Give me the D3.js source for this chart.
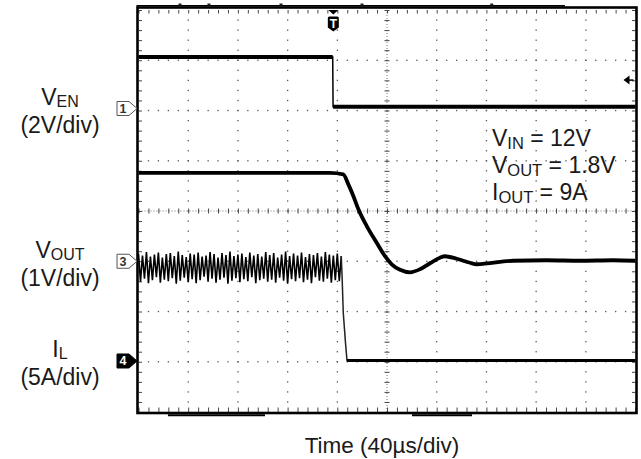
<!DOCTYPE html>
<html><head><meta charset="utf-8">
<script src="https://cdn.jsdelivr.net/npm/d3@7"></script>
<style>
body{margin:0;background:#fff;}
svg{display:block;font-family:"Liberation Sans",Arial,Helvetica,sans-serif;}
</style></head><body>
<svg id="c" width="641" height="459"></svg>
<script>
// ---------- DATA ----------
// horizontal: 10 divisions x 40 µs
const timeTicksUs = [0, 40, 80, 120, 160, 200, 240, 280, 320, 360, 400];
// vertical: 8 divisions
const divTicks = [-4, -3, -2, -1, 0, 1, 2, 3, 4];

// channels: CH1 = VEN, CH3 = VOUT, CH4 = IL
const channelIds = ["1", "3", "4"];
const channelScale = [2, 1, 5];            // V/div, V/div, A/div
const channelOffsetDiv = [2.04, -1.0, -2.985];

// VEN (CH1), volts
const venTime = [0, 156.3, 156.6, 400];
const venValue = [2.05, 2.05, 0.07, 0.07];

// VOUT (CH3), volts
const voutTime = [0, 154.1, 164.8, 168.9, 172.9, 176.9, 183.7, 191.7, 198.4, 203.8, 210.5, 218.5, 226.5, 234.6, 242.6, 246.6, 256.1, 266.8, 272.2, 301.4, 328.5, 355.3, 381.9, 400];
const voutValue = [1.76, 1.76, 1.73, 1.53, 1.30, 1.04, 0.70, 0.37, 0.10, -0.06, -0.17, -0.22, -0.16, -0.04, 0.07, 0.10, 0.05, -0.03, -0.06, 0.01, 0.02, 0.01, 0.02, 0.01];

// IL (CH4), amps: switching ripple before the disable (sampled every 1.6 µs)
const ilRippleStepUs = 1.6;
const ilRipple = [10.7,7.9,10.5,8.2,10.85,7.75,10.4,8.05,10.6,8.35,10.8,7.8,10.3,8.1,10.65,7.95,10.75,8.25,10.45,7.7,10.9,8.0,10.55,8.3,10.35,7.85,10.7,8.15,10.6,7.75,10.8,8.05,10.4,8.4,10.5,7.9,10.85,8.2,10.65,7.8,10.3,8.1,10.75,8.3,10.55,7.7,10.9,8.0,10.45,8.25,10.6,7.85,10.7,8.15,10.35,7.95,10.8,8.35,10.5,7.75,10.65,8.05,10.4,8.2,10.85,7.9,10.55,8.1,10.75,7.8,10.3,8.3,10.6,8.0,10.9,7.7,10.45,8.15,10.7,7.95,10.5,8.25,10.8,7.85,10.35,8.1,10.65,7.75,10.55,8.35,10.75,8.0,10.4,7.9,10.85,8.2,10.6,7.8,10.5,8.05,10.7,7.95,10.45];
const ilTailTime = [163.8, 164.8, 166.6, 167.8, 400];
const ilTailValue = [8.6, 4.8, 1.8, 0.05, 0.05];

// trigger
const triggerTimeUs = 156.8;
const triggerLevelV = 1.13;   // on CH1

// texts
const leftMain = ["V", "V", "I"];
const leftSub = ["EN", "OUT", "L"];
const leftUnit = ["(2V/div)", "(1V/div)", "(5A/div)"];
const noteMain = ["V", "V", "I"];
const noteSub = ["IN", "OUT", "OUT"];
const noteRest = [" = 12V", " = 1.8V", " = 9A"];
const xTitle = "Time (40µs/div)";

// screen artefacts of the scope capture (in µs along the frame)
const topMarksUs = [33.4, 56.7, 114.7, 179.9, 284.3];
const topThickUs = [0, 343.2];
const bottomThickUs = [[23.7, 101.8], [220.1, 268.4]];

// ---------- LAYOUT ----------
const svg = d3.select("#c");
const x = d3.scaleLinear().domain([0, 400]).range([138.5, 635.5]);
const y = d3.scaleLinear().domain([-4, 4]).range([412, 10]);
const chY = (c, v) => y(channelOffsetDiv[c] + v / channelScale[c]);

const minorT = [];
for (let i = 0; i < timeTicksUs.length - 1; i++) for (let j = 0; j < 5; j++) minorT.push(timeTicksUs[i] + j * 8);
minorT.push(400);
const minorV = [];
for (let i = 0; i < divTicks.length - 1; i++) for (let j = 0; j < 5; j++) minorV.push(divTicks[i] + j * 0.2);
minorV.push(4);

const grid = svg.append("g");
// dotted graticule
timeTicksUs.filter(t => t > 0 && t < 400 && t !== 200).forEach(t => {
  grid.append("g").selectAll("rect").data(minorV.filter(v => v > -4 && v < 4)).enter().append("rect")
    .attr("x", x(t) - 0.6).attr("y", d => y(d) - 0.6).attr("width", 1.3).attr("height", 1.3).attr("fill", "#555");
});
divTicks.filter(v => v > -4 && v < 4 && v !== 0).forEach(v => {
  grid.append("g").selectAll("rect").data(minorT.filter(t => t > 0 && t < 400)).enter().append("rect")
    .attr("x", d => x(d) - 0.6).attr("y", y(v) - 0.6).attr("width", 1.3).attr("height", 1.3).attr("fill", "#555");
});
// centre lines
grid.append("line").attr("x1", x(0)).attr("x2", x(400)).attr("y1", y(0)).attr("y2", y(0))
  .attr("stroke", "#777").attr("stroke-width", 1).attr("stroke-dasharray", "1,2");
grid.append("line").attr("x1", x(200)).attr("x2", x(200)).attr("y1", y(-4)).attr("y2", y(4))
  .attr("stroke", "#777").attr("stroke-width", 1).attr("stroke-dasharray", "1,2");

function styleAxis(g) {
  g.select(".domain").remove();
  g.selectAll("line").attr("stroke", "#444").attr("stroke-width", 1);
  g.selectAll("text").remove();
}
// centre ticks via axes
svg.append("g").attr("transform", `translate(0,${y(0)})`)
  .call(d3.axisBottom(x).tickValues(minorT).tickSize(2.5).tickFormat("")).call(styleAxis);
svg.append("g").attr("transform", `translate(0,${y(0)})`)
  .call(d3.axisTop(x).tickValues(minorT).tickSize(2.5).tickFormat("")).call(styleAxis);
svg.append("g").attr("transform", `translate(${x(200)},0)`)
  .call(d3.axisLeft(y).tickValues(minorV).tickSize(2.5).tickFormat("")).call(styleAxis);
svg.append("g").attr("transform", `translate(${x(200)},0)`)
  .call(d3.axisRight(y).tickValues(minorV).tickSize(2.5).tickFormat("")).call(styleAxis);
// border ticks (inward)
svg.append("g").attr("transform", `translate(0,${y(4)})`)
  .call(d3.axisBottom(x).tickValues(minorT).tickSize(3.5).tickFormat("")).call(styleAxis);
svg.append("g").attr("transform", `translate(0,${y(-4)})`)
  .call(d3.axisTop(x).tickValues(minorT).tickSize(4.5).tickFormat("")).call(styleAxis);
svg.append("g").attr("transform", `translate(${x(0)},0)`)
  .call(d3.axisRight(y).tickValues(minorV).tickSize(3.5).tickFormat("")).call(styleAxis);
svg.append("g").attr("transform", `translate(${x(400)},0)`)
  .call(d3.axisLeft(y).tickValues(minorV).tickSize(3.5).tickFormat("")).call(styleAxis);

// frame
svg.append("rect").attr("x", x(0) - 1).attr("y", y(4) - 2.5).attr("width", x(400) - x(0) + 2)
  .attr("height", y(-4) - y(4) + 3.5).attr("fill", "none").attr("stroke", "#000").attr("stroke-width", 2.6);
svg.append("line").attr("x1", x(topThickUs[0]) - 2).attr("x2", x(topThickUs[1])).attr("y1", y(4) - 4.2).attr("y2", y(4) - 4.2)
  .attr("stroke", "#000").attr("stroke-width", 1.4);
svg.selectAll(".tm").data(topMarksUs).enter().append("rect")
  .attr("x", d => x(d) - 1.5).attr("y", y(4) - 6.5).attr("width", 3).attr("height", 2).attr("fill", "#222");
svg.selectAll(".bt").data(bottomThickUs).enter().append("line")
  .attr("x1", d => x(d[0])).attr("x2", d => x(d[1])).attr("y1", y(-4) + 3.2).attr("y2", y(-4) + 3.2)
  .attr("stroke", "#000").attr("stroke-width", 2);

// ---------- TRACES ----------
const lineFor = c => d3.line().x(d => x(d[0])).y(d => chY(c, d[1]));
const ven = venTime.map((t, i) => [t, venValue[i]]);
svg.append("path").attr("d", lineFor(0)(ven)).attr("fill", "none").attr("stroke", "#000").attr("stroke-width", 1.5);
[[0, 2], [2, 4]].forEach(r => svg.append("path").attr("d", lineFor(0)(ven.slice(r[0], r[1])))
  .attr("fill", "none").attr("stroke", "#000").attr("stroke-width", 3.8));

const vout = voutTime.map((t, i) => [t, voutValue[i]]);
svg.append("path").attr("d", lineFor(1).curve(d3.curveMonotoneX)(vout))
  .attr("fill", "none").attr("stroke", "#000").attr("stroke-width", 3.8).attr("stroke-linejoin", "round");

const ilR = ilRipple.map((v, i) => [i * ilRippleStepUs, v]);
svg.append("path").attr("d", lineFor(2)(ilR)).attr("fill", "none").attr("stroke", "#000").attr("stroke-width", 1.6);
const ilT = [ilR[ilR.length - 1]].concat(ilTailTime.map((t, i) => [t, ilTailValue[i]]));
svg.append("path").attr("d", lineFor(2)(ilT)).attr("fill", "none").attr("stroke", "#222").attr("stroke-width", 1.5);
svg.append("path").attr("d", lineFor(2)(ilT.slice(ilT.length - 2))).attr("fill", "none").attr("stroke", "#000").attr("stroke-width", 3.2);

// ---------- MARKERS ----------
channelIds.forEach((id, c) => {
  const yy = chY(c, 0), tip = x(0) - 1.5;
  const dark = id === "4";
  svg.append("path")
    .attr("d", `M${tip - 20},${yy - 7}L${tip - 8},${yy - 7}L${tip},${yy}L${tip - 8},${yy + 7}L${tip - 20},${yy + 7}Z`)
    .attr("fill", dark ? "#000" : "#fff").attr("stroke", dark ? "#000" : "#555").attr("stroke-width", 1);
  svg.append("text").attr("x", tip - 14).attr("y", yy + 4.5).attr("text-anchor", "middle")
    .attr("font-size", 12.5).attr("font-weight", "bold").attr("fill", dark ? "#fff" : "#333").text(id);
});
// trigger T
{
  const tx = x(triggerTimeUs), ty = y(4);
  svg.append("path").attr("d", `M${tx - 5},${ty}L${tx + 5},${ty}L${tx},${ty + 4.5}Z`).attr("fill", "#000");
  svg.append("path").attr("d", `M${tx - 5.5},${ty + 8}Q${tx - 5.5},${ty + 6.5} ${tx - 4},${ty + 6.5}L${tx + 4},${ty + 6.5}Q${tx + 5.5},${ty + 6.5} ${tx + 5.5},${ty + 8}L${tx + 5.5},${ty + 17.5}L${tx},${ty + 21.5}L${tx - 5.5},${ty + 17.5}Z`).attr("fill", "#000");
  svg.append("text").attr("x", tx).attr("y", ty + 17.5).attr("text-anchor", "middle")
    .attr("font-size", 12).attr("font-weight", "bold").attr("fill", "#fff").text("T");
  const ly = chY(0, triggerLevelV), lx = x(400) - 5;
  svg.append("path").attr("d", `M${lx - 7},${ly}L${lx - 1},${ly - 4.5}L${lx - 1},${ly + 4.5}Z`).attr("fill", "#000");
  svg.append("line").attr("x1", lx - 2).attr("x2", lx + 3).attr("y1", ly).attr("y2", ly).attr("stroke", "#000").attr("stroke-width", 1.5);
}

// ---------- TEXT ----------
channelIds.forEach((id, c) => {
  const yy = chY(c, 0);
  const t = svg.append("text").attr("x", 60).attr("y", yy - 3.5).attr("text-anchor", "middle")
    .attr("font-size", 23).attr("fill", "#1a1a1a");
  t.append("tspan").text(leftMain[c]);
  t.append("tspan").attr("font-size", 16).attr("dy", 2).text(leftSub[c]);
  svg.append("text").attr("x", 60).attr("y", yy + 24.5).attr("text-anchor", "middle")
    .attr("font-size", 23).attr("fill", "#1a1a1a").text(leftUnit[c]);
});
noteMain.forEach((m, i) => {
  const t = svg.append("text").attr("x", x(284.5)).attr("y", 146 + i * 27.2)
    .attr("font-size", 23).attr("fill", "#1a1a1a");
  t.append("tspan").text(m);
  t.append("tspan").attr("font-size", 16.5).attr("dy", 2.5).text(noteSub[i]);
  t.append("tspan").attr("dy", -2.5).text(noteRest[i]);
});
svg.append("text").attr("x", x(196)).attr("y", 453).attr("text-anchor", "middle")
  .attr("font-size", 22.5).attr("fill", "#1a1a1a").text(xTitle);
</script>
</body></html>
